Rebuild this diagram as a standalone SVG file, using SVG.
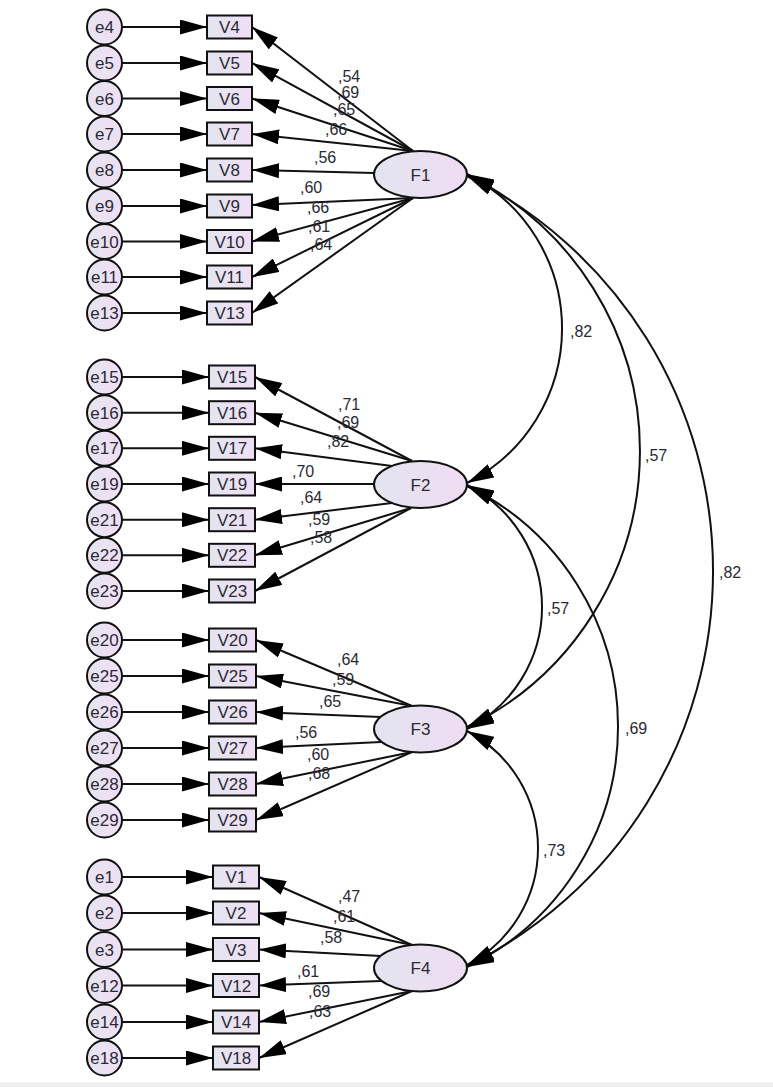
<svg xmlns="http://www.w3.org/2000/svg" width="773" height="1087" viewBox="0 0 773 1087">
<style>
text{font-family:"Liberation Sans",Arial,sans-serif;font-size:16px;fill:#2a2a35}
.c{text-anchor:middle;font-size:17px}
.obs rect{fill:url(#gb);stroke:#111;stroke-width:2}
.err circle{fill:url(#ge);stroke:#111;stroke-width:2}
.lat ellipse{fill:url(#gl);stroke:#111;stroke-width:2}
#connectors line,#connectors path{stroke:#111;stroke-width:2;fill:none}
.p{marker-end:url(#ah)}
.cov{marker-start:url(#ah);marker-end:url(#ah)}
</style>
<defs>
<linearGradient id="gb" x1="0" y1="0" x2="1" y2="0"><stop offset="0" stop-color="#e3e5f0"/><stop offset="1" stop-color="#efdff3"/></linearGradient>
<linearGradient id="ge" x1="0" y1="0" x2="1" y2="0"><stop offset="0" stop-color="#e6e4f0"/><stop offset="1" stop-color="#efdff3"/></linearGradient>
<linearGradient id="gl" x1="0" y1="0" x2="1" y2="0"><stop offset="0" stop-color="#e2e5ef"/><stop offset="1" stop-color="#efdcf3"/></linearGradient>
<marker id="ah" markerUnits="userSpaceOnUse" viewBox="0 0 27 15" markerWidth="27" markerHeight="15" refX="27" refY="7.5" orient="auto-start-reverse"><path d="M0,0 L27,7.5 L0,15 Z" fill="#000"/></marker>
</defs>
<rect x="0" y="0" width="773" height="1087" fill="#fff"/>
<rect x="0" y="1082" width="773" height="5" fill="#efefef"/>

<g id="connectors">
<line class="p" x1="122" y1="27" x2="207" y2="27"/>
<line class="p" x1="122" y1="63" x2="207" y2="63"/>
<line class="p" x1="122" y1="98.5" x2="207" y2="98.5"/>
<line class="p" x1="122" y1="134" x2="207" y2="134"/>
<line class="p" x1="122" y1="170" x2="207" y2="170"/>
<line class="p" x1="122" y1="206" x2="207" y2="206"/>
<line class="p" x1="122" y1="241.5" x2="207" y2="241.5"/>
<line class="p" x1="122" y1="277" x2="207" y2="277"/>
<line class="p" x1="122" y1="313" x2="207" y2="313"/>

<line class="p" x1="122" y1="377" x2="209" y2="377"/>
<line class="p" x1="122" y1="412.7" x2="209" y2="412.7"/>
<line class="p" x1="122" y1="448.3" x2="209" y2="448.3"/>
<line class="p" x1="122" y1="484" x2="209" y2="484"/>
<line class="p" x1="122" y1="519.7" x2="209" y2="519.7"/>
<line class="p" x1="122" y1="555.3" x2="209" y2="555.3"/>
<line class="p" x1="122" y1="591" x2="209" y2="591"/>

<line class="p" x1="122" y1="640" x2="209" y2="640"/>
<line class="p" x1="122" y1="676" x2="209" y2="676"/>
<line class="p" x1="122" y1="712" x2="209" y2="712"/>
<line class="p" x1="122" y1="748" x2="209" y2="748"/>
<line class="p" x1="122" y1="784" x2="209" y2="784"/>
<line class="p" x1="122" y1="820" x2="209" y2="820"/>

<line class="p" x1="122" y1="877" x2="213" y2="877"/>
<line class="p" x1="122" y1="913" x2="213" y2="913"/>
<line class="p" x1="122" y1="949.5" x2="213" y2="949.5"/>
<line class="p" x1="122" y1="985.5" x2="213" y2="985.5"/>
<line class="p" x1="122" y1="1022" x2="213" y2="1022"/>
<line class="p" x1="122" y1="1058" x2="213" y2="1058"/>

<line class="p" x1="413" y1="151" x2="252" y2="27"/>
<line class="p" x1="413" y1="151" x2="252" y2="63"/>
<line class="p" x1="413" y1="151" x2="252" y2="98.5"/>
<line class="p" x1="413" y1="151" x2="252" y2="134"/>
<line class="p" x1="374" y1="173" x2="252" y2="170"/>
<line class="p" x1="413" y1="198" x2="252" y2="205"/>
<line class="p" x1="413" y1="198" x2="252" y2="241.5"/>
<line class="p" x1="413" y1="198" x2="252" y2="277"/>
<line class="p" x1="413" y1="198" x2="252" y2="313"/>

<line class="p" x1="412" y1="461" x2="255" y2="377"/>
<line class="p" x1="412" y1="461" x2="255" y2="412.7"/>
<line class="p" x1="392" y1="466" x2="255" y2="448.3"/>
<line class="p" x1="374" y1="484" x2="255" y2="484"/>
<line class="p" x1="392" y1="503" x2="255" y2="519.7"/>
<line class="p" x1="411" y1="508" x2="255" y2="555.3"/>
<line class="p" x1="411" y1="508" x2="255" y2="591"/>

<line class="p" x1="412" y1="706" x2="256" y2="640"/>
<line class="p" x1="412" y1="706" x2="256" y2="676"/>
<line class="p" x1="381" y1="717" x2="256" y2="712"/>
<line class="p" x1="381" y1="742" x2="256" y2="748"/>
<line class="p" x1="412" y1="752" x2="256" y2="784"/>
<line class="p" x1="412" y1="752" x2="256" y2="820"/>

<line class="p" x1="412" y1="945" x2="259" y2="877"/>
<line class="p" x1="412" y1="945" x2="259" y2="913"/>
<line class="p" x1="381" y1="956" x2="259" y2="949.5"/>
<line class="p" x1="381" y1="981" x2="259" y2="985.5"/>
<line class="p" x1="412" y1="991" x2="259" y2="1022"/>
<line class="p" x1="412" y1="991" x2="259" y2="1058"/>

<path class="cov" d="M467,174 A173.1,173.1 0 0 1 467,483"/>
<path class="cov" d="M467,175 A306.7,306.7 0 0 1 467,727"/>
<path class="cov" d="M467,176 A440.1,440.1 0 0 1 467,966"/>
<path class="cov" d="M467,485 A136.7,136.7 0 0 1 467,729"/>
<path class="cov" d="M467,486 A267,267 0 0 1 467,967"/>
<path class="cov" d="M467,731 A131.9,131.9 0 0 1 467,965"/>

<text x="338" y="82">,54</text>
<text x="337" y="98">,69</text>
<text x="333" y="115">,65</text>
<text x="325" y="135">,66</text>
<text x="314" y="163">,56</text>
<text x="300" y="193">,60</text>
<text x="307" y="213">,66</text>
<text x="308" y="232">,61</text>
<text x="310" y="250">,64</text>

<text x="338" y="410">,71</text>
<text x="337" y="428">,69</text>
<text x="327" y="447">,82</text>
<text x="292" y="477">,70</text>
<text x="300" y="503">,64</text>
<text x="308" y="525">,59</text>
<text x="310" y="543">,58</text>

<text x="337" y="665">,64</text>
<text x="332" y="685">,59</text>
<text x="319" y="707">,65</text>
<text x="295" y="738">,56</text>
<text x="307" y="760">,60</text>
<text x="308" y="779">,68</text>

<text x="338" y="902">,47</text>
<text x="333" y="922">,61</text>
<text x="320" y="943">,58</text>
<text x="297" y="977">,61</text>
<text x="308" y="997">,69</text>
<text x="309" y="1017">,63</text>

<text x="570" y="337">,82</text>
<text x="645" y="461">,57</text>
<text x="719" y="578">,82</text>
<text x="547" y="614">,57</text>
<text x="625" y="734">,69</text>
<text x="543" y="856">,73</text>
</g>

<g id="F1" class="lat"><ellipse cx="420.5" cy="174.5" rx="46.5" ry="23.5"/><text class="c" x="420.5" y="180.5">F1</text></g>
<g id="F2" class="lat"><ellipse cx="420.5" cy="484.5" rx="46.5" ry="23.5"/><text class="c" x="420.5" y="490.5">F2</text></g>
<g id="F3" class="lat"><ellipse cx="420.5" cy="729" rx="46.5" ry="23.5"/><text class="c" x="420.5" y="735">F3</text></g>
<g id="F4" class="lat"><ellipse cx="420.5" cy="968" rx="46.5" ry="23.5"/><text class="c" x="420.5" y="974">F4</text></g>

<g id="e4" class="err"><circle cx="104.5" cy="27" r="17.5"/><text class="c" x="104.5" y="33">e4</text></g>
<g id="e5" class="err"><circle cx="104.5" cy="63" r="17.5"/><text class="c" x="104.5" y="69">e5</text></g>
<g id="e6" class="err"><circle cx="104.5" cy="98.5" r="17.5"/><text class="c" x="104.5" y="104.5">e6</text></g>
<g id="e7" class="err"><circle cx="104.5" cy="134" r="17.5"/><text class="c" x="104.5" y="140">e7</text></g>
<g id="e8" class="err"><circle cx="104.5" cy="170" r="17.5"/><text class="c" x="104.5" y="176">e8</text></g>
<g id="e9" class="err"><circle cx="104.5" cy="206" r="17.5"/><text class="c" x="104.5" y="212">e9</text></g>
<g id="e10" class="err"><circle cx="104.5" cy="241.5" r="17.5"/><text class="c" x="104.5" y="247.5">e10</text></g>
<g id="e11" class="err"><circle cx="104.5" cy="277" r="17.5"/><text class="c" x="104.5" y="283">e11</text></g>
<g id="e13" class="err"><circle cx="104.5" cy="313" r="17.5"/><text class="c" x="104.5" y="319">e13</text></g>

<g id="V4" class="obs"><rect x="207" y="15.5" width="45" height="23"/><text class="c" x="229.5" y="33">V4</text></g>
<g id="V5" class="obs"><rect x="207" y="51.5" width="45" height="23"/><text class="c" x="229.5" y="69">V5</text></g>
<g id="V6" class="obs"><rect x="207" y="87" width="45" height="23"/><text class="c" x="229.5" y="104.5">V6</text></g>
<g id="V7" class="obs"><rect x="207" y="122.5" width="45" height="23"/><text class="c" x="229.5" y="140">V7</text></g>
<g id="V8" class="obs"><rect x="207" y="158.5" width="45" height="23"/><text class="c" x="229.5" y="176">V8</text></g>
<g id="V9" class="obs"><rect x="207" y="194.5" width="45" height="23"/><text class="c" x="229.5" y="212">V9</text></g>
<g id="V10" class="obs"><rect x="207" y="230" width="45" height="23"/><text class="c" x="229.5" y="247.5">V10</text></g>
<g id="V11" class="obs"><rect x="207" y="265.5" width="45" height="23"/><text class="c" x="229.5" y="283">V11</text></g>
<g id="V13" class="obs"><rect x="207" y="301.5" width="45" height="23"/><text class="c" x="229.5" y="319">V13</text></g>

<g id="e15" class="err"><circle cx="104.5" cy="377" r="17.5"/><text class="c" x="104.5" y="383">e15</text></g>
<g id="e16" class="err"><circle cx="104.5" cy="412.7" r="17.5"/><text class="c" x="104.5" y="418.7">e16</text></g>
<g id="e17" class="err"><circle cx="104.5" cy="448.3" r="17.5"/><text class="c" x="104.5" y="454.3">e17</text></g>
<g id="e19" class="err"><circle cx="104.5" cy="484" r="17.5"/><text class="c" x="104.5" y="490">e19</text></g>
<g id="e21" class="err"><circle cx="104.5" cy="519.7" r="17.5"/><text class="c" x="104.5" y="525.7">e21</text></g>
<g id="e22" class="err"><circle cx="104.5" cy="555.3" r="17.5"/><text class="c" x="104.5" y="561.3">e22</text></g>
<g id="e23" class="err"><circle cx="104.5" cy="591" r="17.5"/><text class="c" x="104.5" y="597">e23</text></g>

<g id="V15" class="obs"><rect x="209" y="365.5" width="46" height="23"/><text class="c" x="232" y="383">V15</text></g>
<g id="V16" class="obs"><rect x="209" y="401.2" width="46" height="23"/><text class="c" x="232" y="418.7">V16</text></g>
<g id="V17" class="obs"><rect x="209" y="436.8" width="46" height="23"/><text class="c" x="232" y="454.3">V17</text></g>
<g id="V19" class="obs"><rect x="209" y="472.5" width="46" height="23"/><text class="c" x="232" y="490">V19</text></g>
<g id="V21" class="obs"><rect x="209" y="508.2" width="46" height="23"/><text class="c" x="232" y="525.7">V21</text></g>
<g id="V22" class="obs"><rect x="209" y="543.8" width="46" height="23"/><text class="c" x="232" y="561.3">V22</text></g>
<g id="V23" class="obs"><rect x="209" y="579.5" width="46" height="23"/><text class="c" x="232" y="597">V23</text></g>

<g id="e20" class="err"><circle cx="104.5" cy="640" r="17.5"/><text class="c" x="104.5" y="646">e20</text></g>
<g id="e25" class="err"><circle cx="104.5" cy="676" r="17.5"/><text class="c" x="104.5" y="682">e25</text></g>
<g id="e26" class="err"><circle cx="104.5" cy="712" r="17.5"/><text class="c" x="104.5" y="718">e26</text></g>
<g id="e27" class="err"><circle cx="104.5" cy="748" r="17.5"/><text class="c" x="104.5" y="754">e27</text></g>
<g id="e28" class="err"><circle cx="104.5" cy="784" r="17.5"/><text class="c" x="104.5" y="790">e28</text></g>
<g id="e29" class="err"><circle cx="104.5" cy="820" r="17.5"/><text class="c" x="104.5" y="826">e29</text></g>

<g id="V20" class="obs"><rect x="209" y="628.5" width="47" height="23"/><text class="c" x="232.5" y="646">V20</text></g>
<g id="V25" class="obs"><rect x="209" y="664.5" width="47" height="23"/><text class="c" x="232.5" y="682">V25</text></g>
<g id="V26" class="obs"><rect x="209" y="700.5" width="47" height="23"/><text class="c" x="232.5" y="718">V26</text></g>
<g id="V27" class="obs"><rect x="209" y="736.5" width="47" height="23"/><text class="c" x="232.5" y="754">V27</text></g>
<g id="V28" class="obs"><rect x="209" y="772.5" width="47" height="23"/><text class="c" x="232.5" y="790">V28</text></g>
<g id="V29" class="obs"><rect x="209" y="808.5" width="47" height="23"/><text class="c" x="232.5" y="826">V29</text></g>

<g id="e1" class="err"><circle cx="104.5" cy="877" r="17.5"/><text class="c" x="104.5" y="883">e1</text></g>
<g id="e2" class="err"><circle cx="104.5" cy="913" r="17.5"/><text class="c" x="104.5" y="919">e2</text></g>
<g id="e3" class="err"><circle cx="104.5" cy="949.5" r="17.5"/><text class="c" x="104.5" y="955.5">e3</text></g>
<g id="e12" class="err"><circle cx="104.5" cy="985.5" r="17.5"/><text class="c" x="104.5" y="991.5">e12</text></g>
<g id="e14" class="err"><circle cx="104.5" cy="1022" r="17.5"/><text class="c" x="104.5" y="1028">e14</text></g>
<g id="e18" class="err"><circle cx="104.5" cy="1058" r="17.5"/><text class="c" x="104.5" y="1064">e18</text></g>

<g id="V1" class="obs"><rect x="213" y="865.5" width="46" height="23"/><text class="c" x="236" y="883">V1</text></g>
<g id="V2" class="obs"><rect x="213" y="901.5" width="46" height="23"/><text class="c" x="236" y="919">V2</text></g>
<g id="V3" class="obs"><rect x="213" y="938" width="46" height="23"/><text class="c" x="236" y="955.5">V3</text></g>
<g id="V12" class="obs"><rect x="213" y="974" width="46" height="23"/><text class="c" x="236" y="991.5">V12</text></g>
<g id="V14" class="obs"><rect x="213" y="1010.5" width="46" height="23"/><text class="c" x="236" y="1028">V14</text></g>
<g id="V18" class="obs"><rect x="213" y="1046.5" width="46" height="23"/><text class="c" x="236" y="1064">V18</text></g>
</svg>
